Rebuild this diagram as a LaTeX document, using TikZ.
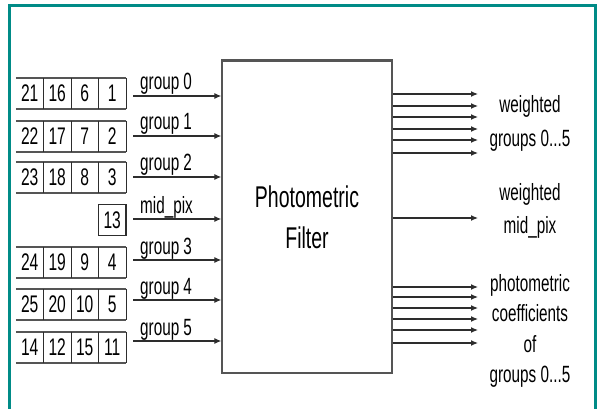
\documentclass[tikz,border=0pt]{standalone}
\usepackage{fontspec}
\setmainfont[FakeStretch=0.65]{Liberation Sans}
\usetikzlibrary{arrows.meta}
\definecolor{frameteal}{RGB}{0,139,135}
\definecolor{boxgray}{RGB}{85,85,85}
\definecolor{arrgray}{RGB}{45,45,45}
\begin{document}
\begin{tikzpicture}[x=1pt,y=-1pt,
  cell/.style={minimum width=27.5pt,minimum height=31pt,inner sep=0pt,font=\fontsize{24}{28}\selectfont},
  hline/.style={boxgray,line width=1.8pt},
  vline/.style={arrgray,line width=1.1pt},
  arr/.style={arrgray,line width=1.2pt,-{Latex[length=7pt,width=6pt]}},
  lab/.style={anchor=base west,inner sep=0pt,font=\fontsize{23.5}{28}\selectfont},
  outlab/.style={align=center,inner sep=0pt,text=black}]
\useasboundingbox (0,0) rectangle (597,409);
\begin{scope}
\clip (0,0) rectangle (597,409);
\draw[frameteal,line width=3pt] (9.5,430) -- (9.5,5.5) -- (595.5,5.5) -- (595.5,430);
\end{scope}
% cell rows
\foreach \r/\t/\a/\b/\c/\d in {1/78/21/16/6/1, 2/121/22/17/7/2, 3/162/23/18/8/3, 4/247/24/19/9/4, 5/289/25/20/10/5, 6/332/14/12/15/11}{
  \node[cell] (c\r a) at (29.75,{\t+15.5}) {\a};
  \node[cell] (c\r b) at (57.25,{\t+15.5}) {\b};
  \node[cell] (c\r c) at (84.75,{\t+15.5}) {\c};
  \node[cell] (c\r d) at (112.25,{\t+15.5}) {\d};
  \draw[hline] (c\r a.north west) -- (c\r d.north east);
  \draw[hline] (c\r a.south west) -- (c\r d.south east);
  \draw[vline] (c\r a.north east) -- (c\r a.south east);
  \draw[vline] (c\r b.north east) -- (c\r b.south east);
  \draw[vline] (c\r c.north east) -- (c\r c.south east);
  \draw[vline] (c\r d.north east) -- (c\r d.south east);
}
\node[cell,draw=arrgray,line width=1.1pt] (mid) at (112.25,220) {13};
% filter
\node[draw=boxgray,line width=1.3pt,minimum width=170pt,minimum height=312pt,inner sep=0pt,
  align=center,font=\fontsize{30}{41}\selectfont] (filter) at (307,217) {Photometric\\Filter};
\draw[boxgray,line width=2.6pt] (filter.north west) -- (filter.north east);
% inputs
\foreach \y/\l [count=\i] in {96/group 0, 136/group 1, 177/group 2, 219/mid\_pix, 260/group 3, 300/group 4, 341/group 5}{
  \coordinate (in\i) at (133,\y);
  \draw[arr] (in\i) -- (in\i -| filter.west);
  \node[lab] (lab\i) at (140,{\y-6}) {\l};
}
% outputs
\foreach \y [count=\i] in {94,106,117,129,140,153}{
  \coordinate (oa\i) at (478,\y);
  \draw[arr] (oa\i -| filter.east) -- (oa\i);
}
\coordinate (om) at (478,218);
\draw[arr] (om -| filter.east) -- (om);
\foreach \y [count=\i] in {287,297,308,319,330,343}{
  \coordinate (ob\i) at (478,\y);
  \draw[arr] (ob\i -| filter.east) -- (ob\i);
}
\node[outlab,font=\fontsize{23.5}{34}\selectfont] (wg) at (530,123) {weighted\\groups 0...5};
\node[outlab,font=\fontsize{23.5}{33}\selectfont] (wm) at (530,211) {weighted\\mid\_pix};
\node[outlab,font=\fontsize{23.5}{30.5}\selectfont] (pc) at (530,331) {photometric\\coefficients\\of\\groups 0...5};
\end{tikzpicture}
\end{document}
